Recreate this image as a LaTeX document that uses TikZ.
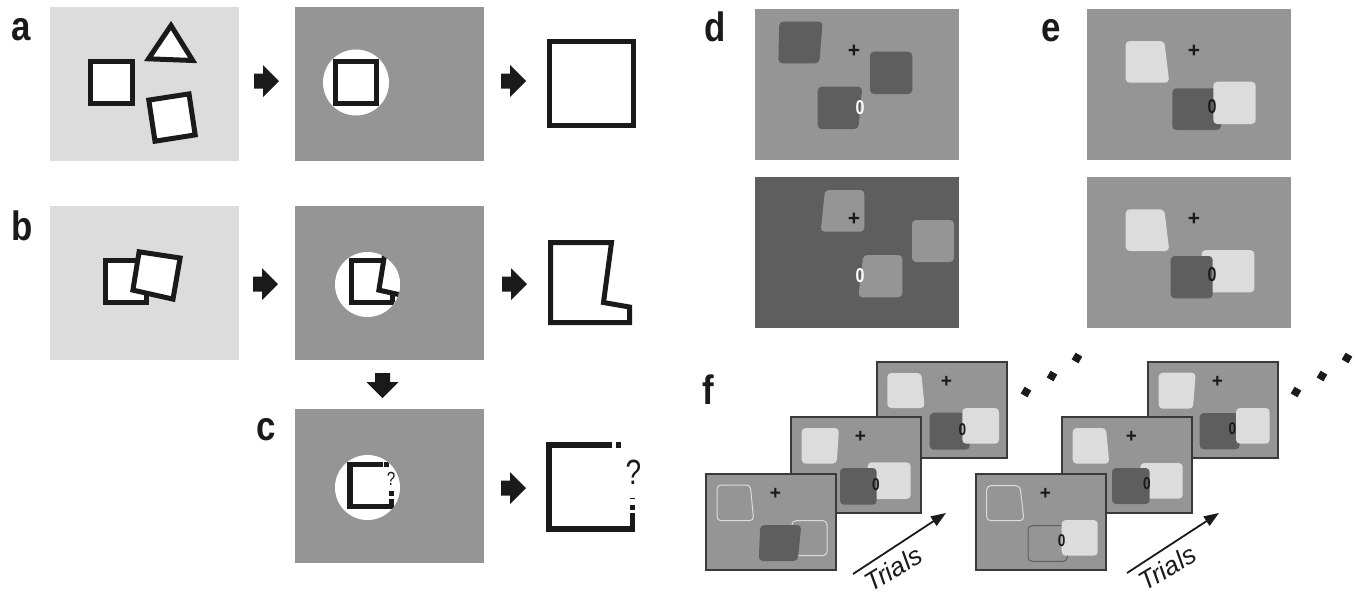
\documentclass[tikz,border=0pt]{standalone}
\usepackage{fontspec}
\setmainfont{Liberation Sans}
\newfontfamily\labfont{Liberation Sans}[FakeStretch=0.85]
\newfontfamily\numfont{Liberation Sans}[FakeStretch=0.8]
\usetikzlibrary{arrows.meta}
\definecolor{lightgr}{HTML}{DCDCDC}
\definecolor{midgr}{HTML}{959595}
\definecolor{darkgr}{HTML}{5E5E5E}
\definecolor{ink}{HTML}{1A1A1A}
\definecolor{framec}{HTML}{3A3A3A}
\tikzset{
  lbl/.style={font={\labfont\bfseries\fontsize{41}{41}\selectfont}, anchor=base west, inner sep=0, text=ink},
  box/.style={rectangle, draw=none, inner sep=0, outer sep=0},
  shapeline/.style={draw=ink, line width=5pt, fill=white, line join=miter},
  blob/.style={rounded corners=4pt},
  plusmark/.style={font={\bfseries\fontsize{21}{21}\selectfont}, inner sep=0, text=ink},
  zeromark/.style={font={\numfont\bfseries\fontsize{20}{20}\selectfont}, inner sep=0, text=ink},
  fplus/.style={font={\bfseries\fontsize{19}{19}\selectfont}, inner sep=0, text=ink},
  fzero/.style={font={\numfont\bfseries\fontsize{17}{17}\selectfont}, inner sep=0, text=ink},
  qmark/.style={font={\numfont\fontsize{#1}{#1}\selectfont}, inner sep=0, text=ink},
  frm/.style={box, draw=framec, line width=1.3pt, fill=midgr, minimum width=130pt, minimum height=96pt},
  trialarrow/.style={draw=ink, line width=1.8pt, -{Triangle[length=15pt,width=11pt]}},
  trialtext/.style={font={\itshape\fontsize{26}{26}\selectfont}, inner sep=0, text=ink, rotate=31},
  blockarrow/.pic={\fill[ink] (0,-7.5) -- (9,-7.5) -- (9,-16) -- (25,0) -- (9,16) -- (9,7.5) -- (0,7.5) -- cycle;}
}
\newcommand{\dotmk}[2]{\fill[ink, rotate around={15:(#1,#2)}] (#1,#2) +(0,-5.5) -- +(5.5,0) -- +(0,5.5) -- +(-5.5,0) -- cycle;}
\begin{document}
\begin{tikzpicture}[x=1pt,y=-1pt]
\useasboundingbox (0,0) rectangle (1358,595);

% ---------- panel a ----------
\node[lbl] (la) at (11,40) {a};
\node[box, fill=lightgr, minimum width=189pt, minimum height=154pt] (a1) at (144.5,84) {};
\draw[shapeline] (90.5,61.5) rectangle (132.5,103.5);
\draw[shapeline] (171,25.5) -- (148.5,58.8) -- (192.7,60.5) -- cycle;
\draw[shapeline] (148.8,100.1) -- (189,93.9) -- (195.2,134.9) -- (155,141.2) -- cycle;
\pic at (254,81) {blockarrow};
\node[box, fill=midgr, minimum width=189pt, minimum height=154pt] (a2) at (389.5,84) {};
\fill[white] (356,82.5) circle (33pt);
\draw[shapeline] (335.5,61.5) rectangle (376.5,103.5);
\pic at (501,81) {blockarrow};
\draw[shapeline] (549.5,41.5) rectangle (633.5,125.5);

% ---------- panel b ----------
\node[lbl] (lb) at (11,240) {b};
\node[box, fill=lightgr, minimum width=189pt, minimum height=154pt] (b1) at (144.5,283) {};
\draw[shapeline] (105.5,260.5) rectangle (146.5,302.5);
\draw[shapeline] (139.1,251.8) -- (180.1,258) -- (173,299.1) -- (132.9,290.1) -- cycle;
\pic at (253,284) {blockarrow};
\node[box, fill=midgr, minimum width=189pt, minimum height=154pt] (b2) at (389.5,283) {};
\fill[white] (367.5,284.5) circle (32.5pt);
\begin{scope}
  \clip (367.5,284.5) circle (32.5pt);
  \draw[shapeline] (351.5,260.5) rectangle (392.5,302.5);
  \draw[shapeline] (385.1,251.8) -- (426.1,258) -- (419,299.1) -- (378.9,290.1) -- cycle;
\end{scope}
\pic at (502,284) {blockarrow};
\draw[shapeline] (550.5,242.5) -- (611.5,242.5) -- (603.5,302.5) -- (629.5,307) -- (629.5,322.5) -- (550.5,322.5) -- cycle;

% ---------- panel c ----------
\pic[rotate=-90] at (382.5,373) {blockarrow};
\node[lbl] (lc) at (256,440) {c};
\node[box, fill=midgr, minimum width=189pt, minimum height=154pt] (c1) at (389.5,486) {};
\fill[white] (367.5,487.5) circle (32.5pt);
\begin{scope}
  \clip (367.5,487.5) circle (32.5pt);
  \fill[ink] (347,462) rectangle (382.5,467);
  \fill[ink] (384,462) rectangle (388.5,467);
  \fill[ink] (347,462) rectangle (352.5,508.5);
  \fill[ink] (347,503.5) rectangle (394,508.5);
  \fill[ink] (389,491) rectangle (394,496);
  \fill[ink] (389,498.5) rectangle (394,508.5);
\end{scope}
\node[qmark=19] (cq1) at (391,479) {?};
\pic at (501,488) {blockarrow};
\fill[ink] (546,442) rectangle (612,448);
\fill[ink] (616,442) rectangle (621,448);
\fill[ink] (546,442) rectangle (552,532);
\fill[ink] (546,526) rectangle (635,532);
\fill[ink] (630,497.5) rectangle (635,499.3);
\fill[ink] (630,505) rectangle (635,510);
\fill[ink] (630,513) rectangle (635,532);
\node[qmark=35] (cq2) at (633.5,472) {?};

% ---------- panel d ----------
\node[lbl] (ld) at (704,41) {d};
\node[box, fill=midgr, minimum width=204pt, minimum height=151pt] (d1) at (857,84.5) {};
\fill[darkgr, blob] (779.3,21.7) -- (822.7,21.7) -- (819.3,63.3) -- (778.3,63.3) -- cycle;
\fill[darkgr, blob] (870,51.7) rectangle (912.3,94);
\fill[darkgr, blob] (817.7,86.7) -- (862.3,86.7) -- (858.3,129) -- (817.7,129) -- cycle;
\node[plusmark] (dp1) at (854,51) {+};
\node[zeromark, text=white] (dz1) at (860,108) {0};
\node[box, fill=darkgr, minimum width=204pt, minimum height=151pt] (d2) at (857,252.5) {};
\fill[midgr, blob] (825,190) -- (864.3,190) -- (864.3,231.7) -- (820.7,231.7) -- cycle;
\fill[midgr, blob] (912,220) rectangle (954,262);
\fill[midgr, blob] (863.3,255) -- (902.3,255) -- (902.3,297.3) -- (858.3,297.3) -- cycle;
\node[plusmark] (dp2) at (854,219) {+};
\node[zeromark, text=white] (dz2) at (860,276) {0};

% ---------- panel e ----------
\node[lbl] (le) at (1041,41) {e};
\node[box, fill=midgr, minimum width=204pt, minimum height=151pt] (e1) at (1189,84.5) {};
\fill[lightgr, blob] (1125.7,41) -- (1164.3,41) -- (1169.3,82.7) -- (1125.7,82.7) -- cycle;
\fill[darkgr, blob] (1172.3,88.3) rectangle (1221,130);
\fill[lightgr, blob] (1213.3,81.7) rectangle (1255.7,124);
\node[plusmark] (ep1) at (1194,51) {+};
\node[zeromark] (ez1) at (1212,107) {0};
\node[box, fill=midgr, minimum width=204pt, minimum height=151pt] (e2) at (1189,252.5) {};
\fill[lightgr, blob] (1125.7,209.3) -- (1164.3,209.3) -- (1169.3,251) -- (1125.7,251) -- cycle;
\fill[lightgr, blob] (1201.7,250) rectangle (1254.3,292.3);
\fill[darkgr, blob] (1170.7,256) rectangle (1212.7,298.3);
\node[plusmark] (ep2) at (1194,219) {+};
\node[zeromark] (ez2) at (1212,275) {0};

% ---------- panel f ----------
\node[lbl] (lf) at (702,404) {f};
% group 1
\begin{scope}[shift={(877,362)}]
  \node[frm] (g1c) at (65,48) {};
  \fill[lightgr, blob] (10.3,11) -- (44.3,11) -- (47.7,46) -- (10.3,46) -- cycle;
  \fill[darkgr, blob] (52.7,50.7) rectangle (92.7,87.7);
  \fill[lightgr, blob] (85.3,46) rectangle (122,81.7);
  \node[fplus] (g1cp) at (69.5,20) {+};
  \node[fzero] (g1cz) at (85.3,67.3) {0};
\end{scope}
\begin{scope}[shift={(791,417)}]
  \node[frm] (g1b) at (65,48) {};
  \fill[lightgr, blob] (10.7,11) -- (48,11) -- (45.7,46.7) -- (10.7,46.7) -- cycle;
  \fill[lightgr, blob] (76.7,45.3) rectangle (119.7,82);
  \fill[darkgr, blob] (49,51) rectangle (85.7,87.7);
  \node[fplus] (g1bp) at (69.5,20) {+};
  \node[fzero] (g1bz) at (85,67.7) {0};
\end{scope}
\begin{scope}[shift={(706,474)}]
  \node[frm] (g1a) at (65,48) {};
  \draw[lightgr, line width=1pt, blob] (11,11) -- (44.3,11) -- (47.7,46.7) -- (11,46.7) -- cycle;
  \draw[lightgr, line width=1pt, blob] (86,46.7) rectangle (121,81.7);
  \fill[darkgr, blob] (54.3,51) -- (95.3,51) -- (91.7,87) -- (52.7,87) -- cycle;
  \node[fplus] (g1ap) at (69.5,20) {+};
\end{scope}
\coordinate (t1s) at (853,574);
\coordinate (t1e) at (946,513);
\draw[trialarrow] (t1s) -- (t1e);
\node[trialtext] (t1) at (893,569) {Trials};
\dotmk{1026}{392}\dotmk{1052}{376}\dotmk{1077}{358}
% group 2
\begin{scope}[shift={(1148,362)}]
  \node[frm] (g2c) at (65,48) {};
  \fill[lightgr, blob] (10.7,10.7) -- (47.7,10.7) -- (45,46.7) -- (10.7,46.7) -- cycle;
  \fill[darkgr, blob] (51.7,51) rectangle (91.7,87.3);
  \fill[lightgr, blob] (88,46) rectangle (121.7,81.7);
  \node[fplus] (g2cp) at (69.5,20) {+};
  \node[fzero] (g2cz) at (84.3,66.7) {0};
\end{scope}
\begin{scope}[shift={(1062,417)}]
  \node[frm] (g2b) at (65,48) {};
  \fill[lightgr, blob] (10.7,11) -- (44,11) -- (47.3,46.7) -- (10.7,46.7) -- cycle;
  \fill[lightgr, blob] (78.3,46) rectangle (120.7,81.7);
  \fill[darkgr, blob] (50,51) rectangle (87.7,87);
  \node[fplus] (g2bp) at (69.5,20) {+};
  \node[fzero] (g2bz) at (85,66.7) {0};
\end{scope}
\begin{scope}[shift={(976,474)}]
  \node[frm] (g2a) at (65,48) {};
  \draw[lightgr, line width=1pt, blob] (10.7,11.7) -- (44,11.7) -- (48,46.7) -- (10.7,46.7) -- cycle;
  \draw[darkgr, line width=1pt, blob] (52,51.7) rectangle (91.3,87.3);
  \fill[lightgr, blob] (85.7,46) rectangle (121.7,81.7);
  \node[fplus] (g2ap) at (69.5,20) {+};
  \node[fzero] (g2az) at (85.7,66.7) {0};
\end{scope}
\coordinate (t2s) at (1127,573);
\coordinate (t2e) at (1219,513);
\draw[trialarrow] (t2s) -- (t2e);
\node[trialtext] (t2) at (1167,568) {Trials};
\dotmk{1296}{392}\dotmk{1322}{376}\dotmk{1347}{358}
\end{tikzpicture}
\end{document}
